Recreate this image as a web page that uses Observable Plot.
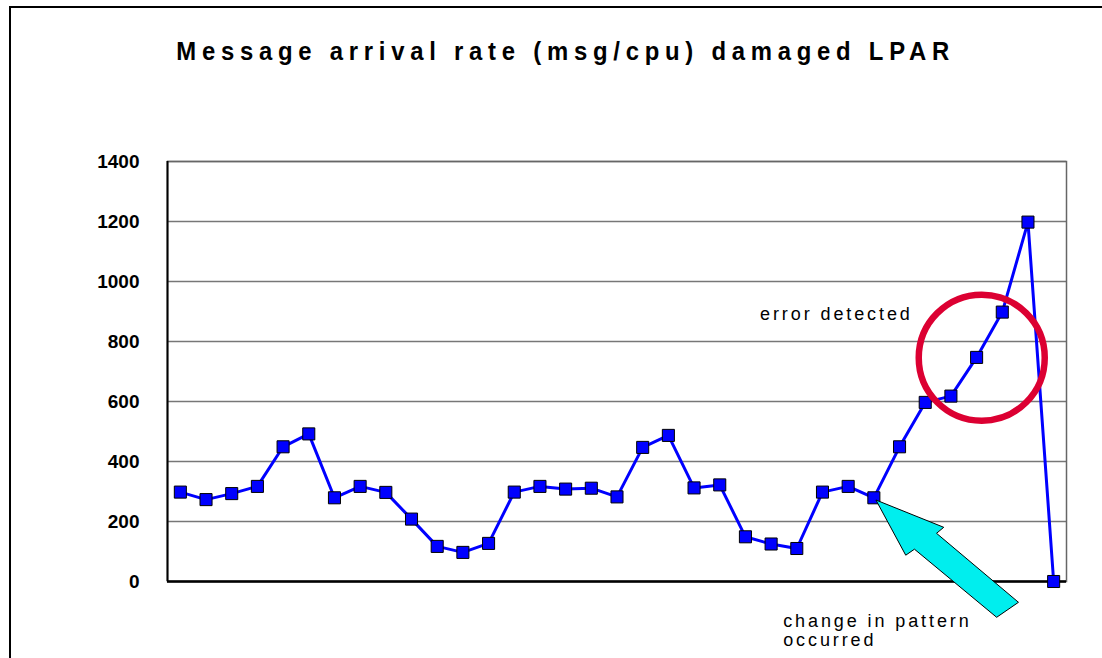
<!DOCTYPE html>
<html>
<head>
<meta charset="utf-8">
<script src="https://cdn.jsdelivr.net/npm/d3@7"></script>
<script src="https://cdn.jsdelivr.net/npm/@observablehq/plot@0.6"></script>
<style>
  body { margin: 0; background: #fff; }
  #wrap { position: relative; width: 1102px; height: 658px; overflow: hidden; background: #fff; }
  #title { position: absolute; left: 0; top: 38px; width: 1102px; text-align: center; line-height: 1;
           font-family: "Liberation Sans", Arial, sans-serif; font-weight: bold; font-size: 26.5px; color: #000;
           white-space: nowrap; }
  #title span { display: inline-block; letter-spacing: 6.4px; transform: scaleX(0.9); transform-origin: center;
                margin-left: 30px; }
  #chart { position: absolute; left: 0; top: 140px; }
  #frame { position: absolute; left: 9px; top: 6px; width: 1200px; height: 700px;
           border-top: 2px solid #000; border-left: 2px solid #000; pointer-events: none; }
</style>
</head>
<body>
<div id="wrap">
  <div id="title"><span>Message arrival rate (msg/cpu) damaged LPAR</span></div>
  <div id="chart"></div>
  <div id="frame"></div>
</div>
<script>
// Observations (index) and message arrival rate values
const values = [298, 273, 293, 317, 449, 492, 279, 317, 297, 208,
                117, 97, 127, 298, 317, 308, 311, 282, 447, 487,
                312, 322, 149, 125, 110, 298, 317, 279, 449, 597,
                618, 747, 898, 1198, 0];
const yTicks = [0, 200, 400, 600, 800, 1000, 1200, 1400];

// Annotations (data coordinates)
const circleNote = [{x: 31.2, y: 746}];
const errorNote = [{x: 22.57, y: 892, text: "error detected"}];
const changeNote = [{x: 23.47, y: -162, text: "change in pattern\noccurred"}];
const arrowX = [27.1, 29.74, 29.46, 32.65, 31.8, 28.6, 28.26];
const arrowY = [270, 179, 159, -71, -121, 106, 86];

const data = values.map((v, i) => ({i, v}));

function arrowMark(index, scales) {
  const pts = arrowX.map((x, k) => [scales.x(x), scales.y(arrowY[k])]);
  const path = document.createElementNS("http://www.w3.org/2000/svg", "path");
  path.setAttribute("d", "M" + pts.map(p => p.join(",")).join("L") + "Z");
  path.setAttribute("fill", "#00eeee");
  path.setAttribute("stroke", "#000");
  path.setAttribute("stroke-width", "1");
  path.setAttribute("stroke-linejoin", "miter");
  const g = document.createElementNS("http://www.w3.org/2000/svg", "g");
  g.appendChild(path);
  return g;
}

const plot = Plot.plot({
  width: 1102,
  height: 518,
  marginTop: 21,
  marginBottom: 77,
  marginLeft: 167,
  marginRight: 36,
  style: {background: "transparent", fontFamily: "'Liberation Sans', Arial, sans-serif"},
  x: {domain: [-0.5, 34.5], axis: null},
  y: {domain: [0, 1400], ticks: yTicks, axis: null},
  marks: [
    Plot.gridY(yTicks, {stroke: "#777", strokeOpacity: 1, strokeWidth: 1.5}),
    Plot.frame({stroke: "#666", strokeWidth: 1.5}),
    Plot.ruleX([-0.5], {stroke: "#000", strokeWidth: 2}),
    Plot.ruleY([0], {stroke: "#000", strokeWidth: 2.5}),
    Plot.axisY(yTicks, {tickSize: 0, tickPadding: 28, fontSize: 19, fontWeight: "bold", fill: "#000", tickFormat: d => String(d)}),
    Plot.line(data, {x: "i", y: "v", stroke: "#0000ff", strokeWidth: 3}),
    Plot.dot(data, {x: "i", y: "v", symbol: "square", r: 6.8, fill: "#0000ff", stroke: "#000", strokeWidth: 1}),
    Plot.dot(circleNote, {x: "x", y: "y", r: 63, fill: "none", stroke: "#dc0032", strokeWidth: 6.5}),
    arrowMark,
    Plot.text(errorNote, {x: "x", y: "y", text: "text", textAnchor: "start", fontSize: 18, fill: "#000"}),
    Plot.text(changeNote, {x: "x", y: "y", text: "text", textAnchor: "start", fontSize: 18, lineHeight: 20 / 18, fill: "#000"})
  ]
});
d3.select(plot).selectAll("text")
  .filter(function() { return /error detected|change in pattern/.test(this.textContent); })
  .attr("letter-spacing", "2.9px");
document.getElementById("chart").appendChild(plot);
</script>
</body>
</html>
